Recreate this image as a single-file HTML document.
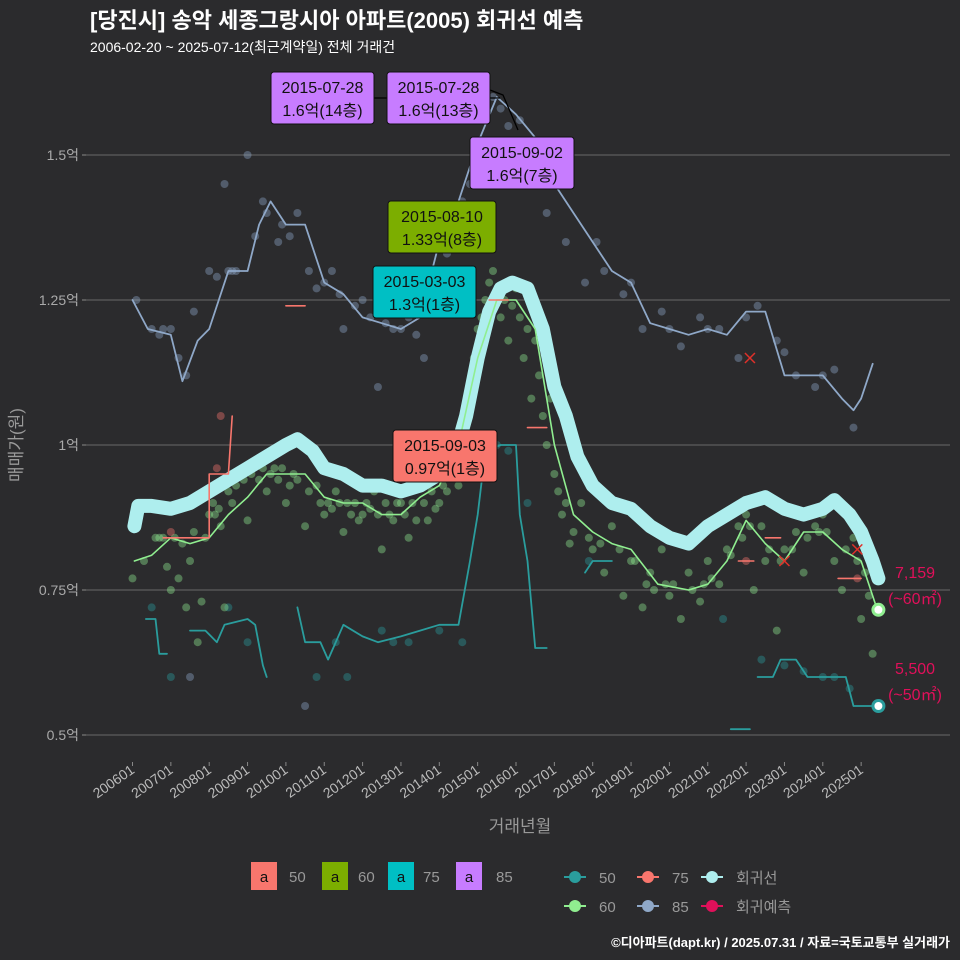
<!DOCTYPE html>
<html><head><meta charset="utf-8"><style>
body{margin:0;background:#2b2b2d;}
svg{display:block;font-family:"Liberation Sans","Noto Sans CJK KR",sans-serif;}
</style></head><body>
<svg id="chart" width="960" height="960" viewBox="0 0 960 960">
<rect width="960" height="960" fill="#2b2b2d"/>
<text x="90" y="28" fill="#fff" font-size="22" font-weight="bold">[당진시] 송악 세종그랑시아 아파트(2005) 회귀선 예측</text>
<text x="90" y="52" fill="#fff" font-size="14">2006-02-20 ~ 2025-07-12(최근계약일) 전체 거래건</text>
<g id="grid"></g><g id="pts"></g><g id="lines"></g><g id="ann"></g><g id="axes"></g>
<text x="520" y="832" fill="#999" font-size="17" text-anchor="middle">거래년월</text>
<text transform="translate(22,445) rotate(-90)" fill="#999" font-size="17" text-anchor="middle">매매가(원)</text>
<g font-size="15">
<rect x="251" y="862" width="26" height="28" fill="#f8766d"/><text x="264" y="882" text-anchor="middle" fill="#111">a</text><text x="289" y="882" fill="#999">50</text>
<rect x="322" y="862" width="26" height="28" fill="#7cae00"/><text x="335" y="882" text-anchor="middle" fill="#111">a</text><text x="358" y="882" fill="#999">60</text>
<rect x="388" y="862" width="26" height="28" fill="#00bfc4"/><text x="401" y="882" text-anchor="middle" fill="#111">a</text><text x="423" y="882" fill="#999">75</text>
<rect x="456" y="862" width="26" height="28" fill="#c77cff"/><text x="469" y="882" text-anchor="middle" fill="#111">a</text><text x="496" y="882" fill="#999">85</text>
</g>
<g id="legend2" font-size="15" fill="#999"></g>
<text x="950" y="947" fill="#fff" font-size="13" font-weight="bold" text-anchor="end">©디아파트(dapt.kr) / 2025.07.31 / 자료=국토교통부 실거래가</text>
</svg>
<script>
const NS='http://www.w3.org/2000/svg';
const yTicks=[0.5,0.75,1,1.25,1.5];
const yTickLabels=['0.5억','0.75억','1억','1.25억','1.5억'];
const xTickLabels=['200601','200701','200801','200901','201001','201101','201201','201301','201401','201501','201601','201701','201801','201901','202001','202101','202201','202301','202401','202501'];
const regT=[2006.05,2006.15,2006.5,2007,2007.5,2008,2008.5,2009,2009.5,2010,2010.3,2010.7,2011,2011.5,2012,2012.5,2013,2013.5,2014,2014.4,2014.7,2015,2015.3,2015.6,2015.9,2016.3,2016.7,2017,2017.3,2017.6,2018,2018.5,2019,2019.5,2020,2020.5,2021,2021.5,2022,2022.5,2023,2023.5,2024,2024.3,2024.7,2025,2025.3,2025.45];
const regV=[0.86,0.895,0.895,0.89,0.9,0.92,0.94,0.96,0.98,1.0,1.01,0.99,0.96,0.95,0.93,0.93,0.92,0.93,0.95,0.98,1.05,1.15,1.23,1.27,1.28,1.27,1.2,1.1,1.05,0.98,0.93,0.9,0.89,0.86,0.84,0.83,0.86,0.88,0.9,0.91,0.89,0.88,0.89,0.905,0.88,0.85,0.8,0.77];
const s60T=[2006.05,2006.5,2007,2007.5,2008,2008.5,2009,2009.5,2010,2010.5,2011,2011.5,2012,2012.5,2013,2013.5,2014,2014.5,2015,2015.5,2016,2016.5,2017,2017.5,2018,2018.5,2019,2019.7,2020.5,2021,2021.5,2022,2022.5,2023,2023.5,2024,2024.5,2025,2025.4];
const s60V=[0.8,0.81,0.84,0.83,0.84,0.88,0.91,0.95,0.95,0.95,0.91,0.9,0.9,0.88,0.88,0.91,0.93,1.0,1.15,1.25,1.25,1.2,1.0,0.88,0.85,0.83,0.82,0.76,0.75,0.76,0.8,0.87,0.83,0.8,0.85,0.85,0.82,0.8,0.72];
const s85T=[2006,2006.4,2007,2007.3,2007.7,2008,2008.5,2009,2009.3,2009.6,2010,2010.5,2011,2011.5,2012,2012.5,2013,2013.5,2014,2014.5,2015,2015.5,2016,2016.5,2017,2017.5,2018,2018.5,2019,2019.5,2020,2020.5,2021,2021.5,2022,2022.5,2023,2023.5,2024,2024.5,2024.8,2025,2025.3];
const s85V=[1.25,1.2,1.19,1.11,1.18,1.2,1.3,1.3,1.38,1.42,1.38,1.38,1.28,1.26,1.22,1.21,1.2,1.22,1.35,1.42,1.52,1.6,1.57,1.53,1.45,1.4,1.35,1.3,1.28,1.21,1.2,1.19,1.2,1.19,1.23,1.23,1.12,1.12,1.12,1.08,1.06,1.08,1.14];
const s75Segs=[
 [[2006.35,0.7],[2006.6,0.7],[2006.7,0.64],[2006.9,0.64]],
 [[2007.5,0.68],[2007.9,0.68],[2008.2,0.66],[2008.4,0.69],[2009,0.7],[2009.2,0.69],[2009.4,0.62],[2009.5,0.6]],
 [[2010.3,0.72],[2010.5,0.66],[2010.9,0.66],[2011.1,0.63],[2011.5,0.69],[2012,0.67],[2012.4,0.66],[2013,0.67],[2013.5,0.68],[2014,0.69],[2014.5,0.69],[2014.8,0.8],[2015,0.88],[2015.2,0.99],[2015.6,1.0],[2016,1.0],[2016.1,0.88],[2016.3,0.8],[2016.5,0.65],[2016.8,0.65]],
 [[2017.8,0.78],[2018,0.8],[2018.5,0.8]],
 [[2021.6,0.51],[2022.1,0.51]],
 [[2022.3,0.6],[2022.7,0.6],[2022.9,0.63],[2023.3,0.63],[2023.6,0.6],[2024.6,0.6],[2024.8,0.55],[2025.4,0.55]]];
const s50Segs=[
 [[2006.8,0.84],[2007.5,0.84],[2008,0.84],[2008,0.95],[2008.5,0.95],[2008.6,1.05]],
 [[2010,1.24],[2010.5,1.24]],[[2015.3,1.25],[2015.8,1.25]],[[2016.3,1.03],[2016.8,1.03]],
 [[2021.8,0.8],[2022.2,0.8]],[[2022.5,0.84],[2022.9,0.84]],[[2024.4,0.77],[2025.0,0.77]]];
const xMarks=[[2022.1,1.15],[2023.0,0.8],[2024.9,0.82]];
const pts60=[[2006,0.77],[2006.3,0.8],[2006.6,0.84],[2006.9,0.79],[2007,0.75],[2007.2,0.77],[2007.4,0.72],[2007.5,0.8],[2007.7,0.66],[2007.8,0.73],[2008,0.88],[2008.2,0.93],[2008.3,0.86],[2008.4,0.72],[2008.6,0.9],[2008.8,0.95],[2009,0.87],[2009.2,0.97],[2009.5,0.92],[2009.7,0.96],[2010,0.9],[2010.2,0.95],[2010.5,0.86],[2010.8,0.93],[2011,0.88],[2011.3,0.92],[2011.5,0.85],[2011.8,0.9],[2012,0.88],[2012.3,0.92],[2012.5,0.82],[2012.8,0.87],[2013,0.9],[2013.2,0.84],[2013.5,0.95],[2013.7,0.87],[2014,0.9],[2014.3,0.97],[2014.5,0.93],[2014.8,1.1],[2015,1.2],[2015.2,1.25],[2015.4,1.3],[2015.6,1.22],[2015.8,1.18],[2016,1.27],[2016.2,1.15],[2016.4,1.08],[2016.6,1.12],[2016.8,1.0],[2017,0.95],[2017.2,0.88],[2017.4,0.83],[2017.7,0.9],[2018,0.82],[2018.3,0.78],[2018.5,0.86],[2018.8,0.74],[2019,0.8],[2019.3,0.72],[2019.5,0.78],[2019.8,0.82],[2020,0.74],[2020.3,0.7],[2020.5,0.78],[2020.8,0.73],[2021,0.8],[2021.3,0.76],[2021.5,0.82],[2021.8,0.86],[2022,0.88],[2022.2,0.75],[2022.5,0.8],[2022.8,0.68],[2023,0.82],[2023.3,0.85],[2023.5,0.78],[2023.8,0.86],[2024,0.88],[2024.3,0.8],[2024.5,0.75],[2024.8,0.84],[2025,0.7],[2025.3,0.64],
[2006.7,0.84],[2006.8,0.84],[2007.1,0.84],[2007.3,0.83],[2007.6,0.85],[2007.9,0.84],[2008.1,0.9],[2008.15,0.88],[2008.25,0.89],[2008.5,0.92],[2008.7,0.93],[2008.9,0.94],[2009.1,0.95],[2009.3,0.94],[2009.4,0.96],[2009.6,0.95],[2009.8,0.94],[2009.9,0.96],[2010.1,0.93],[2010.3,0.94],[2010.6,0.92],[2010.9,0.9],[2011.1,0.9],[2011.2,0.89],[2011.4,0.9],[2011.6,0.9],[2011.7,0.88],[2011.9,0.87],[2012.1,0.9],[2012.2,0.89],[2012.4,0.88],[2012.6,0.9],[2012.7,0.88],[2012.9,0.9],[2013.1,0.88],[2013.3,0.9],[2013.4,0.87],[2013.6,0.9],[2013.8,0.92],[2013.9,0.89],[2014.1,0.93],[2014.2,0.92],[2014.6,1.02],[2014.9,1.15],[2015.1,1.22],[2015.3,1.28],[2015.5,1.26],[2015.7,1.25],[2015.9,1.24],[2016.1,1.22],[2016.3,1.2],[2016.5,1.18],[2016.7,1.05],[2016.9,1.08],[2017.1,0.92],[2017.3,0.9],[2017.5,0.85],[2017.9,0.84],[2018.2,0.83],[2018.7,0.82],[2019.1,0.8],[2019.4,0.76],[2019.6,0.75],[2019.9,0.76],[2020.1,0.76],[2020.6,0.75],[2020.9,0.76],[2021.1,0.77],[2021.6,0.81],[2021.9,0.84],[2022.1,0.86],[2022.4,0.86],[2022.6,0.82],[2022.9,0.8],[2023.2,0.82],[2023.6,0.84],[2023.9,0.85],[2024.1,0.85],[2024.6,0.82],[2024.9,0.8],[2025.1,0.78],[2025.2,0.74]];
const pts85=[[2006.1,1.25],[2006.8,1.2],[2007.2,1.15],[2007.6,1.23],[2008,1.3],[2008.4,1.45],[2008.7,1.3],[2009,1.5],[2009.4,1.42],[2009.8,1.35],[2010.3,1.4],[2010.8,1.27],[2011.2,1.3],[2011.5,1.2],[2012,1.25],[2012.4,1.1],[2012.8,1.2],[2013.2,1.22],[2013.6,1.15],[2014,1.3],[2014.4,1.38],[2014.8,1.45],[2015.4,1.6],[2015.8,1.55],[2016.4,1.5],[2016.8,1.4],[2017.3,1.35],[2017.8,1.28],[2018.3,1.3],[2018.8,1.26],[2019.3,1.2],[2019.8,1.23],[2020.3,1.17],[2020.8,1.22],[2021.3,1.2],[2021.8,1.15],[2022.3,1.24],[2022.8,1.18],[2023.3,1.12],[2023.8,1.1],[2024.3,1.13],[2024.8,1.03],[2007.5,0.6],[2010.5,0.55],
[2006.5,1.2],[2006.7,1.19],[2007,1.2],[2007.4,1.12],[2008.2,1.29],[2008.5,1.3],[2008.6,1.3],[2009.2,1.36],[2009.5,1.4],[2009.9,1.38],[2010.1,1.36],[2010.6,1.3],[2011,1.28],[2011.4,1.26],[2011.8,1.24],[2012.2,1.22],[2012.6,1.21],[2013,1.2],[2013.4,1.19],[2014.2,1.33],[2014.6,1.42],[2015.1,1.52],[2015.6,1.58],[2016.1,1.56],[2017,1.45],[2018.1,1.35],[2019,1.28],[2020,1.2],[2021,1.2],[2022,1.22],[2023,1.16],[2024,1.12]];
const pts75=[[2006.5,0.72],[2007,0.6],[2008.5,0.72],[2009,0.66],[2010.8,0.6],[2011.6,0.6],[2012.5,0.68],[2013.2,0.66],[2014,0.68],[2015,0.95],[2015.5,1.0],[2016.3,0.9],[2017.9,0.8],[2021.4,0.7],[2022.4,0.63],[2023,0.62],[2024,0.6],[2024.7,0.58],[2011.3,0.66],[2012.8,0.66],[2014.6,0.66],[2015.8,0.99],[2023.5,0.61],[2024.3,0.6]];
const pts50=[[2007,0.85],[2008.2,0.96],[2008.3,1.05],[2015.5,1.25],[2022,0.8],[2024.9,0.77]];
const X=t=>132.5+(t-2006)*38.35, Y=v=>445-(v-1)*580;
function el(tag,attrs,parent,txt){const e=document.createElementNS(NS,tag);for(const k in attrs)e.setAttribute(k,attrs[k]);if(txt!==undefined)e.textContent=txt;parent.appendChild(e);return e;}
const grid=document.getElementById('grid'),axes=document.getElementById('axes'),P=document.getElementById('pts'),L=document.getElementById('lines'),A=document.getElementById('ann');
yTicks.forEach((v,i)=>{
 const g=el('line',{x1:86,x2:950,y1:Y(v),y2:Y(v),stroke:'#5e5e5e','stroke-width':1.2},grid);
 
 el('line',{x1:82,x2:86,y1:Y(v),y2:Y(v),stroke:'#888'},axes);
 const t=el('text',{x:79,y:Y(v)+5,fill:'#aaa','font-size':14,'text-anchor':'end'},axes,yTickLabels[i]);
 
});
xTickLabels.forEach((s,i)=>{
 const x=X(2006+i);
 el('line',{x1:x,x2:x,y1:762,y2:766,stroke:'#888'},axes);
 const t=el('text',{transform:`translate(${x+3},772) rotate(-35)`,fill:'#bbb','font-size':14,'text-anchor':'end'},axes,s);
 
});
function dots(arr,col,name){arr.forEach(p=>{const c=el('circle',{cx:X(p[0]),cy:Y(p[1]),r:4,fill:col,'fill-opacity':0.4},P);
 });}
dots(pts85,'#8fa8c8','point-85');dots(pts75,'#2a9d9d','point-75');dots(pts60,'#90ee90','point-60');dots(pts50,'#f8766d','point-50');
function path(pts,col,w,name,parent){const d=pts.map((p,i)=>(i?'L':'M')+X(p[0]).toFixed(1)+','+Y(p[1]).toFixed(1)).join('');
 const e=el('path',{d:d,fill:'none',stroke:col,'stroke-width':w,'stroke-linejoin':'round','stroke-linecap':'round'},parent||L);
 return e;}
const zip=(t,v)=>t.map((x,i)=>[x,v[i]]);
path(zip(regT,regV),'#aeeeee',14,'regression-line');
path(zip(s85T,s85V),'#8fa8c8',1.8,'line-85');
s75Segs.forEach(s=>path(s,'#2a9d9d',1.8,'line-75'));
path(zip(s60T,s60V),'#90ee90',1.6,'line-60');
s50Segs.forEach(s=>path(s,'#f8766d',1.6,'line-50'));
xMarks.forEach(m=>{const x=X(m[0]),y=Y(m[1]);const g=el('g',{stroke:'#e0302a','stroke-width':1.5},L);
 
 el('line',{x1:x-5,y1:y-5,x2:x+5,y2:y+5},g);el('line',{x1:x-5,y1:y+5,x2:x+5,y2:y-5},g);});
const predT=[2025.45,2025.45], predV=[0.7159,0.55], predCol=['#90ee90','#2a9d9d'];
predT.forEach((t,i)=>{const c=el('circle',{cx:X(t),cy:Y(predV[i]),r:5.5,fill:'#fff',stroke:predCol[i],'stroke-width':3},L);
 });
[['7,159',578],['(~60㎡)',604],['5,500',674],['(~50㎡)',700]].forEach(a=>{const t=el('text',{x:915,y:a[1],fill:'#e0105a','font-size':16,'text-anchor':'middle'},A,a[0]);
 });
const anns=[[271,72,103,'#c77cff','2015-07-28','1.6억(14층)',[[374,98],[500,98]]],[387,72,103,'#c77cff','2015-07-28','1.6억(13층)',[[490,90],[503,95],[518,130]]],
[470,137,104,'#c77cff','2015-09-02','1.6억(7층)',[]],[388,201,108,'#7cae00','2015-08-10','1.33억(8층)',[]],
[373,266,103,'#00bfc4','2015-03-03','1.3억(1층)',[]],[393,430,104,'#f8766d','2015-09-03','0.97억(1층)',[]]];
anns.forEach(a=>{if(a[6].length){const d=a[6].map((p,i)=>(i?'L':'M')+p[0]+','+p[1]).join('');el('path',{d:d,stroke:'#000','stroke-width':1.3,fill:'none'},A);}
 const g=el('g',{},A);
 el('rect',{x:a[0],y:a[1],width:a[2],height:52,rx:3,fill:a[3],stroke:'#111','stroke-width':1},g);
 el('text',{x:a[0]+a[2]/2,y:a[1]+21,'font-size':16,'text-anchor':'middle',fill:'#111'},g,a[4]);
 el('text',{x:a[0]+a[2]/2,y:a[1]+44,'font-size':16,'text-anchor':'middle',fill:'#111'},g,a[5]);});
const lg=document.getElementById('legend2');
[[575,877,'#2a9d9d','50'],[575,906,'#90ee90','60'],[648,877,'#f8766d','75'],[648,906,'#8fa8c8','85'],[712,877,'#aeeeee','회귀선'],[712,906,'#e0105a','회귀예측']].forEach(l=>{
 const g=el('g',{},lg);
 el('line',{x1:l[0]-11,x2:l[0]+11,y1:l[1],y2:l[1],stroke:l[2],'stroke-width':2},g);
 el('circle',{cx:l[0],cy:l[1],r:6,fill:l[2]},g);
 el('text',{x:l[0]+24,y:l[1]+6,fill:'#999'},g,l[3]);});
</script>
</body></html>
